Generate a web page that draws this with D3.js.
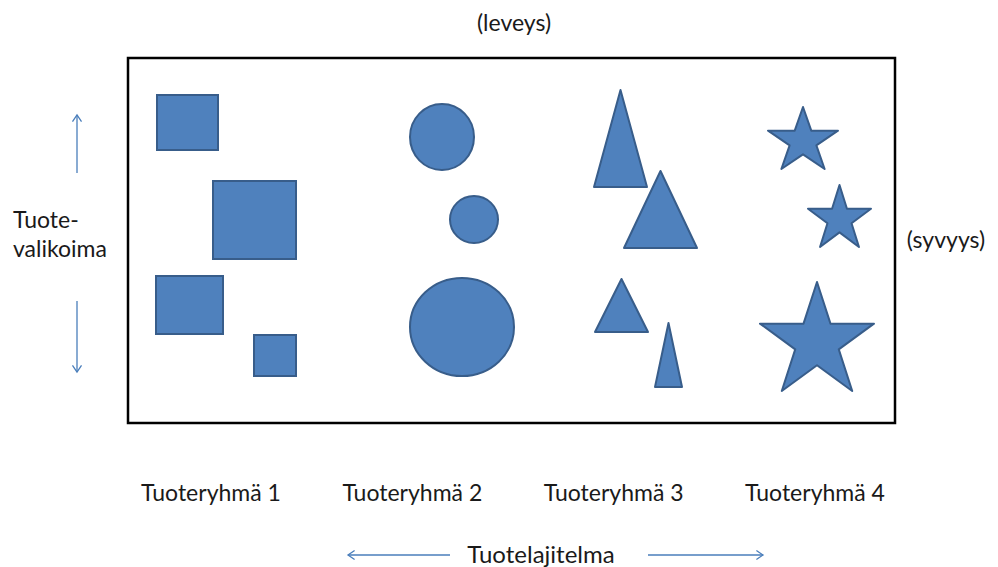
<!DOCTYPE html>
<html>
<head>
<meta charset="utf-8">
<script src="https://cdn.jsdelivr.net/npm/d3@7"></script>
<style>
  body { margin: 0; background: #fff; }
  svg text { font-family: Lato, "Open Sans", sans-serif; fill: #1a1a1a; }
</style>
</head>
<body>
<div id="container"></div>
<script>
// product groups along the width of the assortment
var groups = ["Tuoteryhmä 1", "Tuoteryhmä 2", "Tuoteryhmä 3", "Tuoteryhmä 4"];
var shapeTypes = ["square", "circle", "triangle", "star"];

// bounding boxes [x, y, w, h] of the items inside the frame (frame units)
var squares   = [[28, 36, 63, 57], [84, 122, 85, 80], [27, 217, 69, 60], [125, 276, 44, 43]];
var circles   = [[281, 45, 66, 68], [321, 137, 50, 49], [281, 219, 106, 100]];
var triangles = [[466, 32, 53, 97], [496, 113, 73, 77], [467, 221, 53, 53], [527, 265, 27, 64]];
var stars     = [[640, 49, 70, 62], [680, 127, 63, 62], [632, 224, 114, 109]];

var titleTop = "(leveys)";
var titleRight = "(syvyys)";
var titleLeft = ["Tuote-", "valikoima"];
var titleBottom = "Tuotelajitelma";

var W = 998, H = 567;
var svg = d3.select("#container").append("svg")
  .attr("width", W).attr("height", H);

// frame in page pixels
var frame = {x0: 128, y0: 58, x1: 895, y1: 423};
var x = d3.scaleLinear().domain([0, 767]).range([frame.x0, frame.x1]);
var y = d3.scaleLinear().domain([0, 365]).range([frame.y0, frame.y1]);

var fill = "#4f81bd", edge = "#385d8a", arrowCol = "#4a7ebb";

svg.append("rect")
  .attr("x", frame.x0).attr("y", frame.y0)
  .attr("width", frame.x1 - frame.x0).attr("height", frame.y1 - frame.y0)
  .attr("fill", "none").attr("stroke", "#000").attr("stroke-width", 2.5);

////////// shapes //////////
function toBox(b) {
  return {x: x(b[0]), y: y(b[1]), w: x(b[0] + b[2]) - x(b[0]), h: y(b[1] + b[3]) - y(b[1])};
}

function starPath(bx) {
  // regular five point star fitted in its box
  var rx = bx.w / (2 * Math.sin(2 * Math.PI / 5));
  var ry = bx.h / (1 + Math.cos(Math.PI / 5));
  var cx = bx.x + bx.w / 2, cy = bx.y + ry;
  var inner = 0.382, pts = [];
  for (var i = 0; i < 10; i++) {
    var a = -Math.PI / 2 + i * Math.PI / 5;
    var r = i % 2 ? inner : 1;
    pts.push([cx + Math.cos(a) * r * rx, cy + Math.sin(a) * r * ry]);
  }
  return d3.line()(pts) + "Z";
}

function triPath(bx) {
  return d3.line()([[bx.x + bx.w / 2, bx.y], [bx.x + bx.w, bx.y + bx.h], [bx.x, bx.y + bx.h]]) + "Z";
}

var items = svg.append("g").attr("class", "items")
  .attr("fill", fill).attr("stroke", edge).attr("stroke-width", 2);

items.selectAll("rect.sq").data(squares.map(toBox)).enter().append("rect")
  .attr("class", "sq")
  .attr("x", d => d.x + 1).attr("y", d => d.y + 1)
  .attr("width", d => d.w - 2).attr("height", d => d.h - 2);

items.selectAll("ellipse").data(circles.map(toBox)).enter().append("ellipse")
  .attr("cx", d => d.x + d.w / 2).attr("cy", d => d.y + d.h / 2)
  .attr("rx", d => d.w / 2 - 1).attr("ry", d => d.h / 2 - 1);

items.selectAll("path.tri").data(triangles.map(toBox)).enter().append("path")
  .attr("class", "tri").attr("stroke-linejoin", "round")
  .attr("d", triPath);

items.selectAll("path.star").data(stars.map(toBox)).enter().append("path")
  .attr("class", "star").attr("stroke-linejoin", "round")
  .attr("d", starPath);

////////// labels //////////
var gx = d3.scalePoint().domain(groups).range([211, 815]);

svg.append("g").selectAll("text").data(groups).enter().append("text")
  .attr("x", d => gx(d)).attr("y", 501)
  .attr("text-anchor", "middle")
  .style("font-size", "23px")
  .text(d => d);

svg.append("text").attr("x", 514).attr("y", 31)
  .attr("text-anchor", "middle").style("font-size", "23px").text(titleTop);

svg.append("text").attr("x", 946).attr("y", 248)
  .attr("text-anchor", "middle").style("font-size", "23px").text(titleRight);

svg.append("text").attr("x", 13).attr("y", 228).style("font-size", "23px")
  .selectAll("tspan").data(titleLeft).enter().append("tspan")
  .attr("x", 13).attr("dy", (d, i) => i ? 29 : 0)
  .text(d => d);

svg.append("text").attr("x", 541).attr("y", 563)
  .attr("text-anchor", "middle").style("font-size", "24px").text(titleBottom);

////////// arrows //////////
function arrow(x1, y1, x2, y2) {
  var g = svg.append("g").attr("stroke", arrowCol).attr("stroke-width", 1.3).attr("fill", "none");
  g.append("line").attr("x1", x1).attr("y1", y1).attr("x2", x2).attr("y2", y2);
  var a = Math.atan2(y2 - y1, x2 - x1), L = 8, s = 0.6;
  var head = [
    [x2 - L * Math.cos(a - s), y2 - L * Math.sin(a - s)],
    [x2, y2],
    [x2 - L * Math.cos(a + s), y2 - L * Math.sin(a + s)]
  ];
  g.append("path").attr("d", d3.line()(head));
}

arrow(77, 173, 77, 115);
arrow(77, 301, 77, 372);
arrow(450, 555, 348, 555);
arrow(648, 555, 763, 555);
</script>
</body>
</html>
